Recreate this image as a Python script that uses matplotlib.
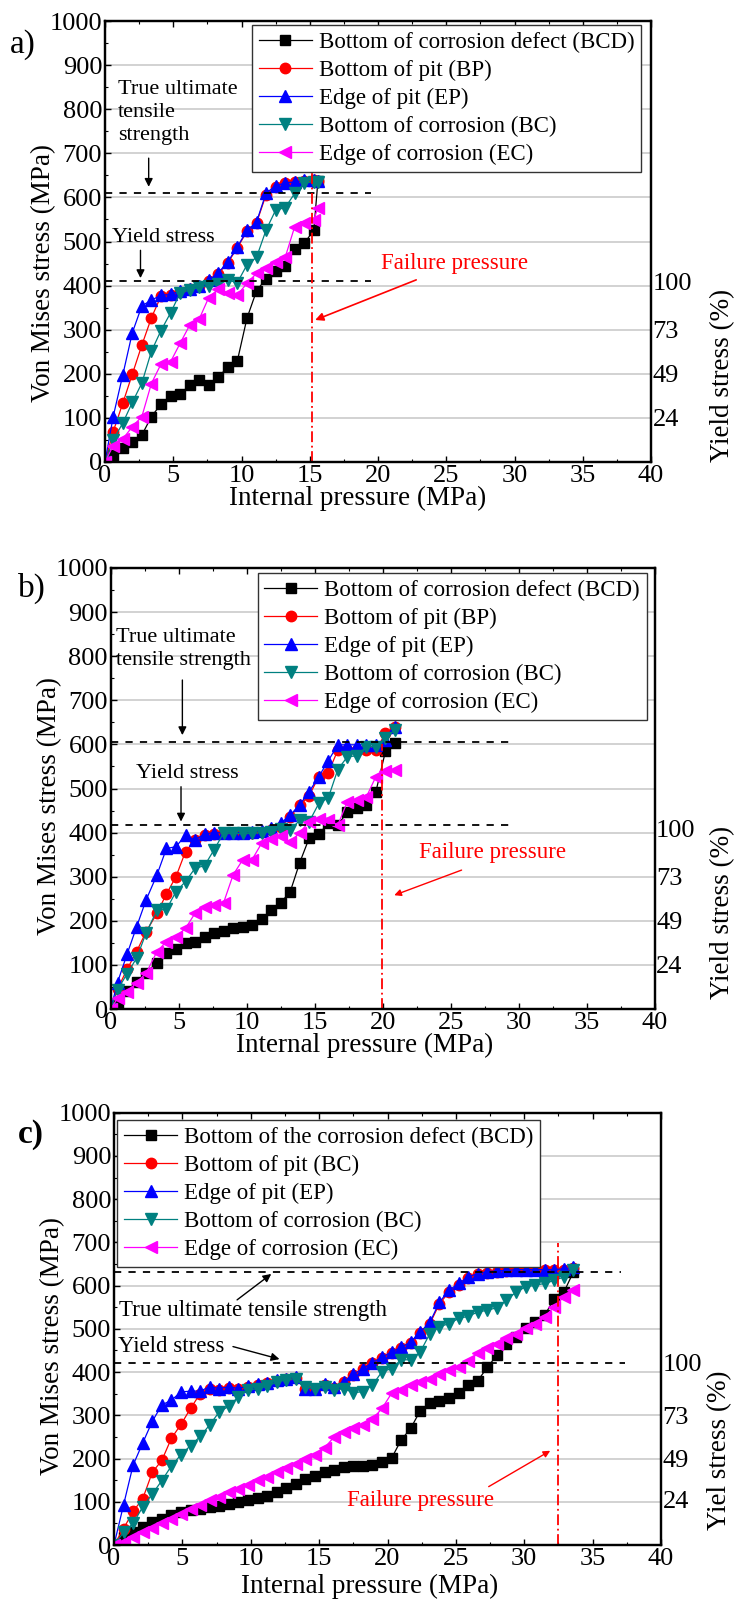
import matplotlib.pyplot as plt
from matplotlib.ticker import MultipleLocator

plt.rcParams['font.family'] = ['Liberation Serif', 'DejaVu Serif']

# ---- panel a) data (MPa) ----
xa = [0, 0.6, 1.3, 2.0, 2.7, 3.4, 4.1, 4.8, 5.5, 6.2, 6.9, 7.6, 8.3, 9.0, 9.7,
      10.4, 11.1, 11.8, 12.5, 13.2, 13.9, 14.6, 15.3, 15.6]
bcd_a = [0, 16, 31, 46, 61, 103, 131, 150, 154, 174, 186, 175, 193, 215, 230,
         326, 388, 416, 432, 445, 482, 496, 526, 638]
bp_a = [0, 69, 133, 199, 265, 327, 376, 378, 386, 392, 398, 410, 427, 452, 486,
        523, 542, 606, 624, 632, 636, 638, 639, 638]
ep_a = [0, 103, 197, 293, 354, 367, 378, 380, 388, 393, 399, 412, 429, 454, 488,
        525, 544, 610, 626, 633, 635, 639, 639, 638]
bc_a = [0, 50, 88, 135, 179, 251, 298, 338, 383, 390, 396, 400, 403, 412, 407,
        447, 464, 526, 571, 577, 609, 632, 636, 636]
ec_a = [0, 37, 52, 80, 103, 178, 222, 227, 269, 310, 324, 373, 392, 384, 379,
        405, 428, 441, 454, 464, 534, 541, 549, 577]

# ---- panel b) data ----
xb = [0, 0.5, 1.2, 1.9, 2.6, 3.4, 4.1, 4.8, 5.5, 6.2, 6.9, 7.6, 8.3, 9.0, 9.7,
      10.4, 11.1, 11.8, 12.5, 13.2, 13.9, 14.6, 15.3, 16.0, 16.7, 17.4, 18.1,
      18.8, 19.5, 20.2, 20.9]
bcd_b = [0, 14, 40, 62, 82, 105, 126, 135, 149, 153, 164, 172, 178, 183, 187,
         190, 203, 224, 241, 266, 332, 388, 397, 421, 417, 447, 455, 463, 493,
         584, 604]
bp_b = [0, 45, 90, 130, 175, 217, 261, 300, 357, 383, 394, 396, 398, 398, 398,
        400, 402, 406, 412, 436, 462, 484, 527, 536, 587, 587, 587, 587, 587,
        625, 640]
ep_b = [0, 60, 124, 186, 247, 304, 364, 368, 394, 383, 397, 400, 399, 400, 400,
        402, 404, 410, 421, 440, 463, 493, 527, 563, 599, 599, 599, 599, 599,
        610, 640]
bc_b = [0, 43, 80, 115, 172, 224, 226, 266, 289, 319, 325, 361, 399, 398, 398,
        398, 400, 402, 408, 406, 428, 425, 466, 479, 543, 572, 574, 595, 595,
        614, 633]
ec_b = [0, 24, 39, 60, 81, 130, 153, 164, 183, 217, 232, 236, 241, 304, 338,
        339, 376, 385, 392, 379, 400, 425, 430, 428, 417, 470, 475, 481, 527,
        540, 542]

# ---- panel c) data ----
xc = [0, 0.7, 1.4, 2.1, 2.8, 3.5, 4.2, 4.9, 5.6, 6.3, 7.0, 7.7, 8.4, 9.1, 9.8,
      10.5, 11.2, 11.9, 12.6, 13.3, 14.0, 14.7, 15.4, 16.1, 16.8, 17.5, 18.2,
      18.9, 19.6, 20.3, 21.0, 21.7, 22.4, 23.1, 23.8, 24.5, 25.2, 25.9, 26.6,
      27.3, 28.0, 28.7, 29.4, 30.1, 30.8, 31.5, 32.2, 32.9, 33.6]
bcd_c = [0, 19, 30, 42, 53, 61, 69, 76, 80, 84, 88, 91, 95, 100, 105, 108, 114,
         122, 131, 141, 152, 160, 168, 174, 180, 182, 182, 185, 191, 201, 243,
         270, 311, 329, 334, 339, 351, 370, 380, 411, 439, 466, 482, 501, 516,
         532, 570, 585, 632]
bp_c = [0, 38, 78, 107, 168, 196, 247, 279, 316, 350, 362, 358, 364, 360, 366,
        370, 374, 380, 384, 386, 360, 360, 371, 364, 376, 393, 406, 420, 432,
        445, 455, 468, 491, 512, 558, 585, 602, 618, 626, 630, 632, 633, 635,
        635, 635, 635, 635, 637, 640]
ep_c = [0, 93, 185, 236, 286, 324, 335, 354, 356, 356, 366, 362, 366, 362, 368,
        372, 375, 382, 385, 388, 362, 362, 373, 366, 378, 395, 408, 422, 434,
        447, 457, 470, 493, 515, 562, 589, 605, 620, 628, 632, 634, 635, 637,
        637, 637, 637, 637, 639, 642]
bc_c = [0, 29, 50, 88, 118, 149, 183, 209, 230, 251, 278, 308, 321, 343, 358,
        362, 367, 377, 382, 385, 366, 360, 366, 358, 362, 352, 355, 370, 401,
        408, 429, 428, 447, 489, 505, 512, 524, 529, 539, 543, 549, 566, 585,
        597, 601, 605, 612, 620, 637]
ec_c = [0, 8, 19, 29, 40, 50, 61, 72, 84, 93, 103, 110, 122, 129, 139, 151, 158,
        170, 179, 187, 198, 208, 225, 250, 262, 270, 278, 291, 316, 351, 358,
        370, 378, 385, 395, 405, 412, 426, 443, 455, 466, 478, 489, 501, 511,
        528, 551, 574, 589]

labels_ab = ['Bottom of corrosion defect (BCD)', 'Bottom of pit (BP)',
             'Edge of pit (EP)', 'Bottom of corrosion (BC)',
             'Edge of corrosion (EC)']
labels_c = ['Bottom of the corrosion defect (BCD)', 'Bottom of pit (BC)',
            'Edge of pit (EP)', 'Bottom of corrosion (BC)',
            'Edge of corrosion (EC)']
right_ticks_ab = [410, 300, 200, 100]
right_ticks_c = [422, 300, 200, 105]
right_labels = ['100', '73', '49', '24']

styles = [('s', 'black', 7), ('o', 'red', 7.5), ('^', 'blue', 8.5),
          ('v', '#008080', 8.5), ('<', '#ff00ff', 8.5)]

W, H = 736, 1602
fig = plt.figure(figsize=(W / 100, H / 100), dpi=100)


def box(l, t, r, b):
    return [l / W, 1 - b / H, (r - l) / W, (b - t) / H]


def panel(rect, x, series, labels, rticks):
    ax = fig.add_axes(box(*rect))
    for y, lab, (m, c, ms) in zip(series, labels, styles):
        ax.plot(x, y, marker=m, color=c, mfc=c, mec=c, ms=ms, lw=0.9, label=lab)
    ax.set_xlim(0, 40)
    ax.set_ylim(0, 1000)
    ax.xaxis.set_major_locator(MultipleLocator(5))
    ax.xaxis.set_minor_locator(MultipleLocator(2.5))
    ax.yaxis.set_major_locator(MultipleLocator(100))
    ax.yaxis.set_minor_locator(MultipleLocator(50))
    ax.yaxis.grid(True, color='#d2d2d2', lw=1.4)
    ax.set_axisbelow(True)
    ax.tick_params(which='both', direction='in', top=True, right=False,
                   labelsize=19, pad=2)
    ax.tick_params(which='major', length=4, width=1)
    ax.tick_params(which='minor', length=2, width=0.8)
    for s in ax.spines.values():
        s.set_linewidth(1.6)
    ax2 = ax.twinx()
    ax2.set_ylim(0, 1000)
    ax2.set_yticks(rticks)
    ax2.set_yticklabels(right_labels)
    ax2.tick_params(axis='y', length=0, labelsize=19, pad=1)
    for s in ax2.spines.values():
        s.set_linewidth(1.6)
    return ax


def legend(ax, loc, anchor):
    lg = ax.legend(loc=loc, bbox_to_anchor=anchor, fontsize=16.5,
                   handlelength=2.3, handletextpad=0.3, labelspacing=0.3,
                   borderpad=0.3, borderaxespad=0, fancybox=False,
                   framealpha=1, edgecolor='#333333')
    lg.get_frame().set_linewidth(1.0)


def ref_lines(ax, y_uts, y_ys, x_end_uts, x_end_ys):
    ax.plot([0, x_end_uts], [y_uts, y_uts], ls=(0, (4, 4)), color='black', lw=1.3)
    ax.plot([0, x_end_ys], [y_ys, y_ys], ls=(0, (4, 4)), color='black', lw=1.3)


def arrow(ax, start, end, color='black', ms=12, lw=1.0):
    ax.annotate('', xy=end, xytext=start,
                arrowprops=dict(arrowstyle='-|>', color=color, lw=lw,
                                mutation_scale=ms, shrinkA=0, shrinkB=0))


# ---- a) ----
ax = panel((105, 21, 651, 462), xa, [bcd_a, bp_a, ep_a, bc_a, ec_a], labels_ab,
           right_ticks_ab)
legend(ax, 'upper right', (0.982, 0.991))
ref_lines(ax, 611, 410, 19.5, 19.5)
ax.plot([15.15, 15.15], [0, 723], color='red', lw=1.3, ls=(0, (6, 2, 1, 2)))
ax.text(0.95, 793, 'True ultimate\ntensile\nstrength', fontsize=16, va='center',
        ha='left', linespacing=1.3)
arrow(ax, (3.2, 689), (3.2, 624))
ax.text(0.5, 510, 'Yield stress', fontsize=16, va='center', ha='left')
arrow(ax, (2.6, 480), (2.6, 417))
ax.text(25.6, 451, 'Failure pressure', fontsize=16.5, color='red', ha='center',
        va='center')
arrow(ax, (22.8, 413), (15.4, 322), color='red', ms=12, lw=1.2)
fig.text(10 / W, 1 - 45 / H, 'a)', fontsize=24, va='center', ha='left')

# ---- b) ----
ax = panel((110.7, 568, 654.7, 1009), xb, [bcd_b, bp_b, ep_b, bc_b, ec_b],
           labels_ab, right_ticks_ab)
legend(ax, 'upper right', (0.985, 0.989))
ref_lines(ax, 606, 418, 29.5, 29.7)
ax.plot([19.95, 19.95], [0, 600], color='red', lw=1.3, ls=(0, (6, 2, 1, 2)))
ax.text(0.4, 816, 'True ultimate\ntensile strength', fontsize=16, va='center',
        ha='left', linespacing=1.25)
arrow(ax, (5.27, 746), (5.27, 621))
ax.text(5.6, 533, 'Yield stress', fontsize=16, va='center', ha='center')
arrow(ax, (5.17, 504), (5.17, 425))
ax.text(28.1, 354, 'Failure pressure', fontsize=16.5, color='red', ha='center',
        va='center')
arrow(ax, (25.8, 315), (20.85, 258), color='red', ms=10, lw=1.0)
fig.text(18 / W, 1 - 588 / H, 'b)', fontsize=24, va='center', ha='left')

# ---- c) ----
ax = panel((114, 1112.7, 661, 1545), xc, [bcd_c, bp_c, ep_c, bc_c, ec_c],
           labels_c, right_ticks_c)
legend(ax, 'upper left', (0.006, 0.983))
ref_lines(ax, 631, 420, 37.1, 37.4)
ax.plot([32.5, 32.5], [0, 698], color='red', lw=1.3, ls=(0, (6, 2, 1, 2)))
ax.text(0.39, 542, 'True ultimate tensile strength', fontsize=16.5, va='center',
        ha='left')
arrow(ax, (9.0, 567), (11.5, 627))
ax.text(0.3, 460, 'Yield stress', fontsize=16.5, va='center', ha='left')
arrow(ax, (8.7, 459), (12.1, 430))
ax.text(22.4, 102, 'Failure pressure', fontsize=16.5, color='red', ha='center',
        va='center')
arrow(ax, (27.4, 135), (31.9, 218), color='red', ms=10, lw=1.0)
fig.text(18 / W, 1 - 1135 / H, 'c)', fontsize=24, va='center', ha='left',
         fontweight='bold')

# axis labels placed in pixel positions
for (xl, yl), txt in [((44, 273), 'Von Mises stress (MPa)'),
                      ((50, 806), 'Von Mises stress (MPa)'),
                      ((53, 1346), 'Von Mises stress (MPa)')]:
    fig.text(xl / W, 1 - yl / H, txt, fontsize=19.5, rotation=90,
             ha='center', va='center')
for (xl, yl), txt in [((723, 375), 'Yield stress (%)'),
                      ((723, 912), 'Yield stress (%)'),
                      ((720, 1450), 'Yiel stress (%)')]:
    fig.text(xl / W, 1 - yl / H, txt, fontsize=19.5, rotation=90,
             ha='center', va='center')
for (xl, yl) in [(358, 498), (365, 1045), (370, 1586)]:
    fig.text(xl / W, 1 - yl / H, 'Internal pressure (MPa)', fontsize=19.5,
             ha='center', va='center')

fig.savefig('out.png', dpi=100)
